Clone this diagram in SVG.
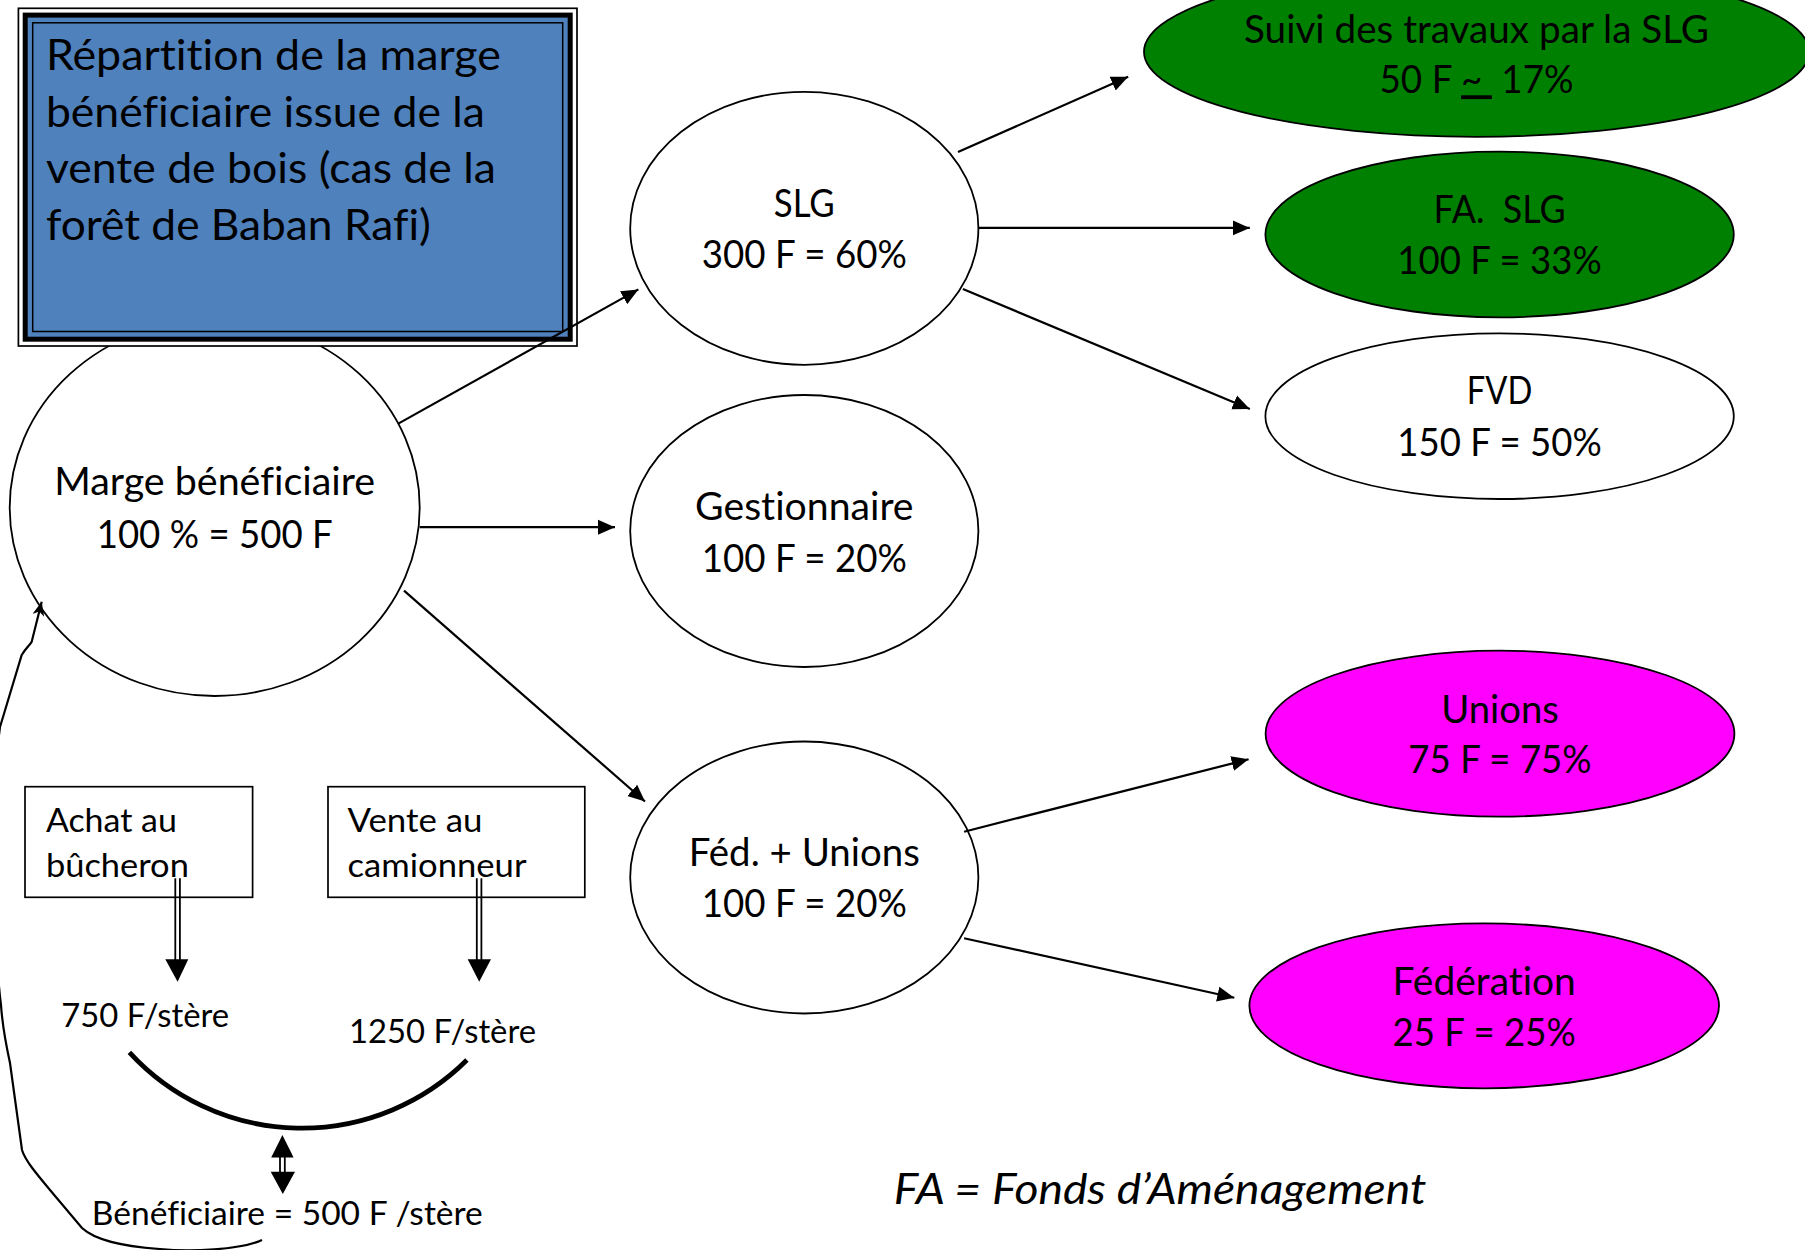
<svg xmlns="http://www.w3.org/2000/svg" width="1805" height="1250" viewBox="0 0 1805 1250">
  <style>
    .t { font-family: Lato, "Liberation Sans", sans-serif; fill: #000; font-variant-ligatures: none; }
    .n { font-size: 38px; text-anchor: middle; }
    .ttl { font-size: 43px; }
    .sm { font-size: 33px; }
    .it { font-size: 42px; font-style: italic; }
    .el { stroke: #000; stroke-width: 1.8; }
    .white { fill: #fff; }
    .green { fill: #008000; }
    .mag { fill: #ff00ff; }
    .con { stroke: #000; stroke-width: 2.2; fill: none; }
    .box { fill: #fff; stroke: #000; stroke-width: 1.7; }
    .dl { stroke: #000; stroke-width: 1.8; }
  </style>
  <defs>
    <marker id="ah" markerUnits="userSpaceOnUse" markerWidth="17" markerHeight="16" viewBox="0 0 17 16" refX="17" refY="8" orient="auto">
      <path d="M0,0.5 L17,8 L0,15.5 z" fill="#000"/>
    </marker>
    <marker id="ah2" markerUnits="userSpaceOnUse" markerWidth="14" markerHeight="12" viewBox="0 0 14 12" refX="14" refY="6" orient="auto">
      <path d="M0,0 L14,6 L0,12 L4,6 z" fill="#000"/>
    </marker>
  </defs>
  <rect x="0" y="0" width="1805" height="1250" fill="#fff"/>

  <g id="marge">
    <ellipse class="el white" cx="214.7" cy="507.5" rx="205" ry="188.5"/>
    <text class="t n" x="214.7" y="495" textLength="321" lengthAdjust="spacingAndGlyphs">Marge bénéficiaire</text>
    <text class="t n" x="214.7" y="547.7" textLength="236" lengthAdjust="spacingAndGlyphs">100 % = 500 F</text>
  </g>

  <g id="title">
    <rect x="18.4" y="8.3" width="558.6" height="337.7" fill="#fff" stroke="#000" stroke-width="1.7"/>
    <rect x="25.2" y="15.1" width="545" height="324.1" fill="#4f81bd" stroke="#000" stroke-width="5"/>
    <rect x="32.7" y="22.8" width="530" height="308.7" fill="none" stroke="#000" stroke-width="1.5"/>
    <text class="t ttl" x="45.9" y="70" textLength="455" lengthAdjust="spacingAndGlyphs">Répartition de la marge</text>
    <text class="t ttl" x="45.9" y="126.7" textLength="439" lengthAdjust="spacingAndGlyphs">bénéficiaire issue de la</text>
    <text class="t ttl" x="45.9" y="183.3" textLength="450" lengthAdjust="spacingAndGlyphs">vente de bois (cas de la</text>
    <text class="t ttl" x="45.9" y="240" textLength="385" lengthAdjust="spacingAndGlyphs">forêt de Baban Rafi)</text>
  </g>

  <g id="slg">
    <ellipse class="el white" cx="804.3" cy="228.3" rx="174.1" ry="136.5"/>
    <text class="t n" x="804.3" y="216.7" textLength="61" lengthAdjust="spacingAndGlyphs">SLG</text>
    <text class="t n" x="804.3" y="268.3" textLength="205" lengthAdjust="spacingAndGlyphs">300 F = 60%</text>
  </g>

  <g id="gestionnaire">
    <ellipse class="el white" cx="804.3" cy="531" rx="174.1" ry="136"/>
    <text class="t n" x="804.3" y="520.3" textLength="218.5" lengthAdjust="spacingAndGlyphs">Gestionnaire</text>
    <text class="t n" x="804.3" y="571.9" textLength="205" lengthAdjust="spacingAndGlyphs">100 F = 20%</text>
  </g>

  <g id="fed-unions">
    <ellipse class="el white" cx="804.3" cy="877.5" rx="174.1" ry="136"/>
    <text class="t n" x="804.3" y="865.7" textLength="231" lengthAdjust="spacingAndGlyphs">Féd. + Unions</text>
    <text class="t n" x="804.3" y="917.3" textLength="205" lengthAdjust="spacingAndGlyphs">100 F = 20%</text>
  </g>

  <g id="suivi">
    <ellipse class="el green" cx="1476.5" cy="51.8" rx="332.5" ry="85"/>
    <text class="t n" x="1476.5" y="42.7" textLength="465" lengthAdjust="spacingAndGlyphs">Suivi des travaux par la SLG</text>
    <text class="t n" x="1476.5" y="93.3" xml:space="preserve" textLength="194" lengthAdjust="spacingAndGlyphs">50 F <tspan text-decoration="underline">~ </tspan> 17%</text>
  </g>

  <g id="fa-slg">
    <ellipse class="el green" cx="1499.6" cy="234.5" rx="234.2" ry="82.8"/>
    <text class="t n" x="1499.6" y="223.3" xml:space="preserve" textLength="132" lengthAdjust="spacingAndGlyphs">FA.  SLG</text>
    <text class="t n" x="1499.6" y="274" textLength="204.5" lengthAdjust="spacingAndGlyphs">100 F = 33%</text>
  </g>

  <g id="fvd">
    <ellipse class="el white" cx="1499.6" cy="416.2" rx="234.2" ry="82.8"/>
    <text class="t n" x="1499.6" y="404" textLength="65.5" lengthAdjust="spacingAndGlyphs">FVD</text>
    <text class="t n" x="1499.6" y="456" textLength="204.5" lengthAdjust="spacingAndGlyphs">150 F = 50%</text>
  </g>

  <g id="unions">
    <ellipse class="el mag" cx="1500" cy="733.7" rx="234.4" ry="83"/>
    <text class="t n" x="1500" y="722.7" textLength="117.7" lengthAdjust="spacingAndGlyphs">Unions</text>
    <text class="t n" x="1500" y="773.3" textLength="183.3" lengthAdjust="spacingAndGlyphs">75 F = 75%</text>
  </g>

  <g id="federation">
    <ellipse class="el mag" cx="1484.2" cy="1005.8" rx="234.8" ry="82.5"/>
    <text class="t n" x="1484.2" y="995" textLength="183.3" lengthAdjust="spacingAndGlyphs">Fédération</text>
    <text class="t n" x="1484.2" y="1046" textLength="183.3" lengthAdjust="spacingAndGlyphs">25 F = 25%</text>
  </g>

  <g id="achat">
    <rect class="box" x="25" y="786.7" width="227.6" height="110.6"/>
    <text class="t sm" x="45.9" y="831.7" textLength="131" lengthAdjust="spacingAndGlyphs">Achat au</text>
    <text class="t sm" x="45.9" y="876.7" textLength="143" lengthAdjust="spacingAndGlyphs">bûcheron</text>
  </g>

  <g id="vente">
    <rect class="box" x="328" y="786.7" width="256.8" height="110.6"/>
    <text class="t sm" x="347.5" y="831.7" textLength="135" lengthAdjust="spacingAndGlyphs">Vente au</text>
    <text class="t sm" x="347.5" y="876.7" textLength="179" lengthAdjust="spacingAndGlyphs">camionneur</text>
  </g>

  <g id="prix-achat">
    <text class="t sm" x="61.2" y="1026.7" textLength="168" lengthAdjust="spacingAndGlyphs">750 F/stère</text>
  </g>
  <g id="prix-vente">
    <text class="t sm" x="349" y="1042.7" textLength="187" lengthAdjust="spacingAndGlyphs">1250 F/stère</text>
  </g>
  <g id="beneficiaire">
    <text class="t sm" x="91.8" y="1225" textLength="391" lengthAdjust="spacingAndGlyphs">Bénéficiaire = 500 F /stère</text>
  </g>
  <g id="legende">
    <text class="t it" x="893.7" y="1204" textLength="532.7" lengthAdjust="spacingAndGlyphs">FA = Fonds d’Aménagement</text>
  </g>

  <g id="connectors">
    <line class="con" x1="398.3" y1="423.6" x2="638.4" y2="289.4" marker-end="url(#ah)"/>
    <line class="con" x1="419.6" y1="527.2" x2="615" y2="527.2" marker-end="url(#ah)"/>
    <line class="con" x1="404" y1="590.7" x2="645" y2="801.5" marker-end="url(#ah)"/>
    <line class="con" x1="958" y1="152" x2="1128.2" y2="76.7" marker-end="url(#ah)"/>
    <line class="con" x1="978.4" y1="227.9" x2="1249.8" y2="227.9" marker-end="url(#ah)"/>
    <line class="con" x1="962.9" y1="289" x2="1249.8" y2="409" marker-end="url(#ah)"/>
    <line class="con" x1="964.1" y1="831.7" x2="1248.6" y2="759.3" marker-end="url(#ah)"/>
    <line class="con" x1="964.1" y1="938.3" x2="1234.3" y2="997.7" marker-end="url(#ah)"/>

    <line class="dl" x1="175.3" y1="878.3" x2="175.3" y2="960"/>
    <line class="dl" x1="179.9" y1="878.3" x2="179.9" y2="960"/>
    <polygon points="165.3,959.3 188.3,959.3 177.6,981.7" fill="#000"/>
    <line class="dl" x1="476.8" y1="878.3" x2="476.8" y2="960"/>
    <line class="dl" x1="481.4" y1="878.3" x2="481.4" y2="960"/>
    <polygon points="467.7,959.3 491,959.3 479.2,981.7" fill="#000"/>

    <path d="M129.4,1052.3 A234,234 0 0 0 466.9,1060" fill="none" stroke="#000" stroke-width="4.8"/>

    <polygon points="282.4,1135 293.6,1157.5 271.2,1157.5" fill="#000"/>
    <line class="dl" x1="280" y1="1150" x2="280" y2="1173"/>
    <line class="dl" x1="284.8" y1="1150" x2="284.8" y2="1173"/>
    <polygon points="270.7,1171.7 295,1171.7 282.8,1194" fill="#000"/>

    <path class="con" d="M262,1240 C240,1250 190,1252 160,1249 C120,1246 95,1240 82,1228 L50,1190 C35,1172 25,1160 22,1150 L10,1063 C5,1040 2,1020 1,1005 C-6,950 -10,800 0,727 L21.7,655 C26,648 30,645 31.7,641.7 L41.7,601.7" marker-end="url(#ah2)"/>
  </g>
</svg>
